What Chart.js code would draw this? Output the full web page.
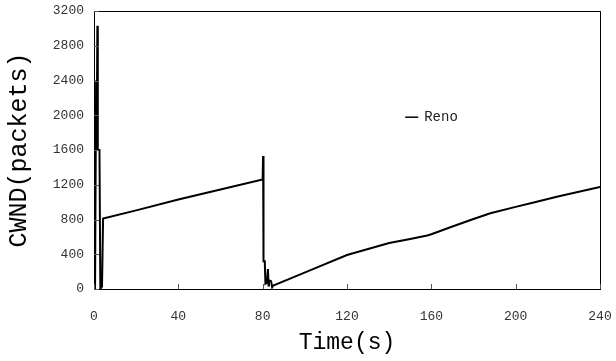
<!DOCTYPE html>
<html>
<head>
<meta charset="utf-8">
<script src="https://cdn.jsdelivr.net/npm/chart.js@4.4.1/dist/chart.umd.min.js"></script>
<style>
  body { margin: 0; background: #fff; }
  #wrap { width: 616px; height: 361px; }
</style>
</head>
<body>
<div id="wrap"><canvas id="myChart"></canvas></div>
<script>
// data
var timeSec = [0, 0.5, 1.0, 1.3, 1.6, 1.8, 2.6, 3.0, 3.8, 4.3,
    20, 40, 60, 80, 80.2, 80.4, 81, 81.3, 82, 82.5, 82.8, 83, 84, 84.5, 85,
    95, 105, 120, 130, 140, 150, 158, 160, 170, 180, 188, 200, 210, 220, 230, 240];
var cwndPackets = [0, 0, 2400, 1800, 3030, 1600, 1600, 0, 30, 810,
    905, 1030, 1145, 1262, 1530, 320, 320, 60, 70, 230, 40, 100, 90, 20, 40,
    140, 240, 391, 460, 530, 575, 615, 630, 720, 805, 871, 945, 1005, 1065, 1120, 1174];
var xTickValues = [0, 40, 80, 120, 160, 200, 240];
var yTickValues = [0, 400, 800, 1200, 1600, 2000, 2400, 2800, 3200];
var seriesName = 'Reno';

var points = timeSec.map(function (t, i) { return { x: t, y: cwndPackets[i] }; });
var monoFont = '"Liberation Mono", "Courier New", monospace';

// box around the plot, inward tick marks and the legend inside the plot
var framePlugin = {
    id: 'frame',
    afterDatasetsDraw: function (chart) {
        var c = chart.ctx, a = chart.chartArea;
        var xs = chart.scales.x, ys = chart.scales.y;
        c.save();
        c.strokeStyle = '#000';
        c.lineWidth = 1;
        c.strokeRect(a.left + 0.5, a.top + 0.5, a.right - a.left, a.bottom - a.top);
        c.strokeStyle = '#555';
        xTickValues.forEach(function (v) {
            var px = Math.round(xs.getPixelForValue(v)) + 0.5;
            c.beginPath(); c.moveTo(px, a.bottom); c.lineTo(px, a.bottom - 5); c.stroke();
        });
        yTickValues.forEach(function (v) {
            var py = Math.round(ys.getPixelForValue(v)) + 0.5;
            c.beginPath(); c.moveTo(a.left, py); c.lineTo(a.left + 5, py); c.stroke();
        });
        // legend
        var lx = a.left + (a.right - a.left) * 0.615;
        var ly = a.top + (a.bottom - a.top) * 0.382;
        c.strokeStyle = '#000';
        c.lineWidth = 1.5;
        c.beginPath(); c.moveTo(lx, ly); c.lineTo(lx + 13, ly); c.stroke();
        c.fillStyle = '#222';
        c.font = '14px ' + monoFont;
        c.textBaseline = 'middle';
        c.fillText(chart.data.datasets[0].label, lx + 19, ly);
        c.restore();
    }
};

var ctx = document.getElementById('myChart').getContext('2d');
var myChart = new Chart(ctx, {
    type: 'line',
    data: {
        datasets: [{
            label: seriesName,
            data: points,
            borderColor: '#000',
            borderWidth: 2,
            pointRadius: 0,
            tension: 0,
            fill: false
        }]
    },
    options: {
        responsive: true,
        maintainAspectRatio: false,
        animation: false,
        layout: { padding: { left: 0, top: 11, right: 16, bottom: 0 } },
        plugins: { legend: { display: false }, tooltip: { enabled: false } },
        scales: {
            x: {
                type: 'linear',
                min: 0,
                max: 240,
                afterBuildTicks: function (s) { s.ticks = xTickValues.map(function (v) { return { value: v }; }); },
                afterFit: function (s) { s.height = 72; s.paddingLeft = 0; s.paddingRight = 0; },
                grid: { display: false },
                border: { display: false },
                ticks: {
                    color: '#333', font: { family: monoFont, size: 13 }, padding: 12, maxRotation: 0,
                    callback: function (v) { return String(v); }
                },
                title: { display: true, text: 'Time(s)', color: '#000', font: { family: monoFont, size: 23 }, padding: { top: 2 } }
            },
            y: {
                min: 0,
                max: 3200,
                afterBuildTicks: function (s) { s.ticks = yTickValues.map(function (v) { return { value: v }; }); },
                afterFit: function (s) { s.width = 94; },
                grid: { display: false },
                border: { display: false },
                ticks: {
                    color: '#333', font: { family: monoFont, size: 13 }, padding: 2,
                    callback: function (v) { return String(v); }
                },
                title: { display: true, text: 'CWND(packets)', color: '#000', font: { family: monoFont, size: 25 }, padding: { bottom: 6 } }
            }
        }
    },
    plugins: [framePlugin]
});
</script>
</body>
</html>
